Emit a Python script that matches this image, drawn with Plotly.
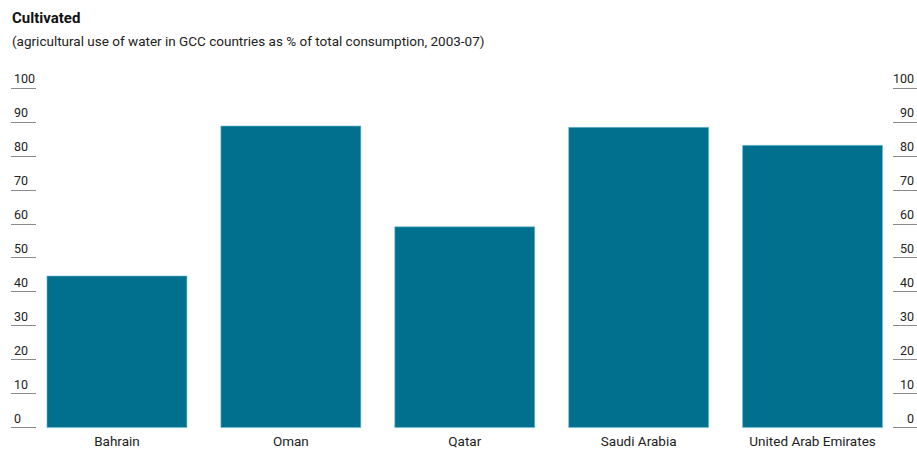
import plotly.graph_objects as go

countries = ["Bahrain", "Oman", "Qatar", "Saudi Arabia", "United Arab Emirates"]
agri_share = [44.7, 88.9, 59.2, 88.5, 83.2]
tick_vals = [0, 10, 20, 30, 40, 50, 60, 70, 80, 90, 100]
tick_text = [str(v) for v in tick_vals]

W, H = 917, 451
y_lo, y_hi = -1.0, 106
ppu = 3.4  # pixels per unit
ml, mr = 10, 0
mt = 88 - (y_hi - 100) * ppu
mb = H - (428 - y_lo * ppu)
pw = W - ml - mr
ph = H - mt - mb
FONT = "Roboto, Arial"
BAR = "#00708e"
TXT = "#222222"
TICK = "#8a8a8a"

fig = go.Figure()
fig.add_trace(go.Bar(
    x=countries, y=agri_share,
    marker=dict(color=BAR, line=dict(color="#6fc3d6", width=0.6)),
    hoverinfo="x+y", showlegend=False,
))
fig.add_trace(go.Scatter(
    x=countries, y=agri_share, yaxis="y2", mode="lines",
    line=dict(width=0, color="rgba(0,0,0,0)"), hoverinfo="skip", showlegend=False,
))

x0 = (30 - ml) / pw
x1 = (899.5 - ml) / pw

fig.update_layout(
    width=W, height=H,
    margin=dict(l=ml, r=mr, t=mt, b=mb, autoexpand=False),
    paper_bgcolor="white", plot_bgcolor="white",
    font=dict(family=FONT, size=12, color=TXT),
    bargap=0.195,
    xaxis=dict(
        domain=[x0, x1], showgrid=False, zeroline=False, showline=False,
        ticks="",
        tickfont=dict(family=FONT, size=13.5, color=TXT),
        automargin=False,
    ),
    yaxis=dict(
        range=[y_lo, y_hi], anchor="free", position=0, side="left",
        tickvals=tick_vals, ticktext=tick_text,
        ticks="inside", ticklen=25, tickwidth=1, tickcolor=TICK,
        ticklabelposition="inside top",
        tickfont=dict(family=FONT, size=12.5, color=TXT),
        showgrid=False, zeroline=False, showline=False, automargin=False,
    ),
    yaxis2=dict(
        range=[y_lo, y_hi], overlaying="y", anchor="free", position=1, side="right",
        tickvals=tick_vals, ticktext=tick_text,
        ticks="inside", ticklen=24, tickwidth=1, tickcolor=TICK,
        ticklabelposition="inside top",
        tickfont=dict(family=FONT, size=12.5, color=TXT),
        showgrid=False, zeroline=False, showline=False, automargin=False,
    ),
    annotations=[
        dict(text="<b>Cultivated</b>", xref="paper", yref="paper",
             x=(10 - ml) / pw, y=1 + (mt - 17) / ph,
             xanchor="left", yanchor="middle", showarrow=False,
             font=dict(family=FONT, size=15, color="#111111")),
        dict(text="(agricultural use of water in GCC countries as % of total consumption, 2003-07)",
             xref="paper", yref="paper",
             x=(10 - ml) / pw, y=1 + (mt - 41) / ph,
             xanchor="left", yanchor="middle", showarrow=False,
             font=dict(family=FONT, size=13.5, color=TXT)),
    ],
)

fig.write_html("out.html")
